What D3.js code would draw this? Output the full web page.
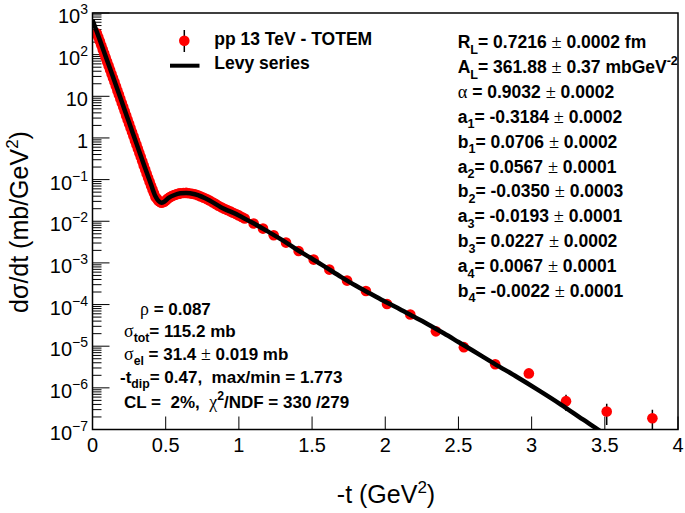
<!DOCTYPE html>
<html><head><meta charset="utf-8">
<script src="https://cdn.jsdelivr.net/npm/d3@7"></script>
<style>
body{margin:0;background:#fff}
svg{display:block}
text{font-family:"Liberation Sans",Arial,sans-serif;white-space:pre}
</style>
</head><body>
<svg id="c" width="685" height="513"></svg>
<script>
// ---------- data ----------
const xTicks = [0, 0.5, 1, 1.5, 2, 2.5, 3, 3.5, 4];
const xTickLabels = ["0", "0.5", "1", "1.5", "2", "2.5", "3", "3.5", "4"];
const yDecades = [-7, -6, -5, -4, -3, -2, -1, 0, 1, 2, 3];
const yTickBase = ["10", "10", "10", "10", "10", "10", "10", "1", "10", "10", "10"];
const yTickExp = ["\u22127", "\u22126", "\u22125", "\u22124", "\u22123", "\u22122", "\u22121", "", "", "2", "3"];

// TOTEM pp 13 TeV data (-t in GeV^2, dsigma/dt in mb/GeV^2)
const tData = [0.03,0.04,0.05,0.06,0.07,0.08,0.09,0.10,0.11,0.12,0.13,0.14,0.15,0.16,0.17,0.18,0.19,0.20,
  0.21,0.22,0.23,0.24,0.25,0.26,0.27,0.28,0.29,0.30,0.31,0.32,0.33,0.34,0.35,0.36,0.37,0.38,0.39,0.40,
  0.41,0.42,0.43,0.44,0.45,0.46,0.47,0.48,0.49,0.50,0.51,0.52,0.53,0.54,0.55,0.56,0.57,0.58,0.59,0.60,
  0.62,0.64,0.66,0.68,0.70,0.72,0.74,0.76,0.78,0.80,0.82,0.84,0.86,0.88,0.90,0.92,0.94,0.96,0.98,1.00,
  1.02,1.04,1.101,1.165,1.238,1.322,1.408,1.511,1.618,1.739,1.868,2.012,2.171,2.346,2.537,2.751,2.981,
  3.235,3.513,3.825];
const dsData = [324,261,209,167,133,106,84.7,67.6,54.0,43.1,34.4,27.4,21.9,17.4,13.8,11.0,8.71,6.92,
  5.50,4.37,3.47,2.75,2.19,1.74,1.38,1.10,0.871,0.692,0.550,0.437,0.347,0.275,0.219,0.175,0.139,0.111,0.0887,0.0708,
  0.0575,0.0468,0.0380,0.0351,0.0309,0.0293,0.0279,0.0286,0.0295,0.0316,0.0339,0.0363,0.0380,0.0398,0.0413,0.0427,0.0439,0.0450,0.0460,0.0468,
  0.0475,0.0479,0.0471,0.0459,0.0445,0.0422,0.0394,0.0366,0.0340,0.0316,0.0287,0.0261,0.0236,0.0216,0.0200,0.0186,0.0173,0.0160,0.0149,0.0138,
  0.0126,0.0116,8.8e-3,6.67e-3,4.6e-3,3.07e-3,1.93e-3,1.2e-3,6.9e-4,3.76e-4,2.11e-4,1.03e-4,5.75e-5,2.27e-5,9.5e-6,3.69e-6,2.22e-6,
  4.79e-7,2.71e-7,1.87e-7];
// visible error bars (last points only)
const errT = [3.235, 3.513, 3.825];
const errVal = [2.0e-7, 1.43e-7, 1.1e-7];

// Levy series fit curve
const lineT = [0,0.05,0.1,0.15,0.2,0.25,0.3,0.35,0.4,0.43,0.45,0.47,0.49,0.52,0.56,0.6,0.64,0.7,0.8,0.874,
  1.0,1.1,1.2,1.3,1.4,1.5,1.6,1.7,1.8,1.9,2.0,2.1,2.2,2.3,2.4,2.5,2.6,2.75,2.9,3.035,3.2,3.35,3.461,3.55];
const lineV = [676,224,72.4,23.4,7.41,2.34,0.741,0.234,0.0759,0.0398,0.0309,0.0279,0.0295,0.0363,0.0427,0.0468,0.0479,0.0445,0.0316,0.0221,
  0.0138,8.91e-3,5.62e-3,3.47e-3,2.04e-3,1.26e-3,7.59e-4,4.57e-4,2.82e-4,1.82e-4,1.17e-4,7.76e-5,5.01e-5,3.24e-5,2.04e-5,1.26e-5,7.76e-6,3.72e-6,1.82e-6,9.33e-7,3.98e-7,1.74e-7,9.55e-8,5.75e-8];

// fit parameters
const parName = ["R", "A", "\u03b1", "a", "b", "a", "b", "a", "b", "a", "b"];
const parSub = ["L", "L", "", "1", "1", "2", "2", "3", "3", "4", "4"];
const parVal = ["0.7216", "361.88", "0.9032", "-0.3184", "0.0706", "0.0567", "-0.0350", "-0.0193", "0.0227", "0.0067", "-0.0022"];
const parErr = ["0.0002", "0.37", "0.0002", "0.0002", "0.0002", "0.0001", "0.0003", "0.0001", "0.0002", "0.0001", "0.0001"];
const parUnit = [" fm", " mbGeV", "", "", "", "", "", "", "", "", ""];
const parUnitSup = ["", "-2", "", "", "", "", "", "", "", "", ""];

const legendLabels = ["pp 13 TeV - TOTEM", "Levy series"];

// ---------- drawing ----------
const svg = d3.select("#c");
const L = 92.5, R = 678, T = 13, B = 429.5;
const x = d3.scaleLinear().domain([0, 4]).range([L, R]);
const y = d3.scaleLog().domain([1e-7, 1e3]).range([B, T]);

svg.append("defs").append("clipPath").attr("id", "clip")
  .append("rect").attr("x", L).attr("y", T).attr("width", R - L).attr("height", B - T);

// y ticks
const yt = svg.append("g").attr("stroke", "#000").attr("stroke-width", 1);
yDecades.forEach(n => {
  const v = Math.pow(10, n);
  yt.append("line").attr("x1", L).attr("x2", L + 17).attr("y1", y(v)).attr("y2", y(v));
  if (n < 3) for (let k = 2; k <= 9; k++) {
    const vv = k * v;
    yt.append("line").attr("x1", L).attr("x2", L + 9).attr("y1", y(vv)).attr("y2", y(vv));
  }
});
// x ticks
xTicks.forEach(t => {
  yt.append("line").attr("x1", x(t)).attr("x2", x(t)).attr("y1", B).attr("y2", B - 13);
});

// y tick labels
yDecades.forEach((n, i) => {
  const tx = svg.append("text").attr("x", 88).attr("y", y(Math.pow(10, n)) + 10)
    .attr("text-anchor", "end").attr("font-size", 20);
  tx.append("tspan").text(yTickBase[i]);
  if (yTickExp[i]) tx.append("tspan").attr("dy", -9).attr("font-size", 14).text(yTickExp[i]);
});
// x tick labels
xTicks.forEach((t, i) => {
  svg.append("text").attr("x", x(t)).attr("y", 452).attr("text-anchor", "middle")
    .attr("font-size", 20).text(xTickLabels[i]);
});

// axis titles
const yTitle = svg.append("text").attr("transform", "translate(28,222) rotate(-90)")
  .attr("text-anchor", "middle").attr("font-size", 25);
yTitle.append("tspan").text("d\u03c3/dt (mb/GeV");
yTitle.append("tspan").attr("dy", -10).attr("font-size", 17).text("2");
yTitle.append("tspan").attr("dy", 10).text(")");
const xTitle = svg.append("text").attr("x", 386).attr("y", 503)
  .attr("text-anchor", "middle").attr("font-size", 25);
xTitle.append("tspan").text("-t (GeV");
xTitle.append("tspan").attr("dy", -10).attr("font-size", 17).text("2");
xTitle.append("tspan").attr("dy", 10).text(")");

// data
const plot = svg.append("g").attr("clip-path", "url(#clip)");
const eb = plot.append("g").attr("stroke", "#000").attr("stroke-width", 1.5);
errT.forEach((t, i) => {
  const j = tData.indexOf(t);
  const v = dsData[j];
  eb.append("line").attr("x1", x(t)).attr("x2", x(t))
    .attr("y1", y(v + errVal[i])).attr("y2", y(Math.max(v - errVal[i], 1e-9)));
});
plot.append("g").selectAll("circle").data(tData.map((t, i) => [t, dsData[i]])).join("circle")
  .attr("cx", d => x(d[0])).attr("cy", d => y(d[1])).attr("r", 5.3).attr("fill", "#ff0000");

const line = d3.line().x(d => x(d[0])).y(d => y(d[1])).curve(d3.curveMonotoneX);
plot.append("path").datum(lineT.map((t, i) => [t, lineV[i]])).attr("d", line)
  .attr("fill", "none").attr("stroke", "#000").attr("stroke-width", 4.5).attr("stroke-linejoin", "round");

// frame
svg.append("rect").attr("x", L).attr("y", T).attr("width", R - L).attr("height", B - T)
  .attr("fill", "none").attr("stroke", "#000").attr("stroke-width", 1.5);

// legend
svg.append("line").attr("x1", 184.3).attr("x2", 184.3).attr("y1", 30).attr("y2", 52)
  .attr("stroke", "#000").attr("stroke-width", 1.5);
svg.append("circle").attr("cx", 184.3).attr("cy", 40.7).attr("r", 5.3).attr("fill", "#ff0000");
svg.append("line").attr("x1", 170).attr("x2", 199.5).attr("y1", 65.7).attr("y2", 65.7)
  .attr("stroke", "#000").attr("stroke-width", 4);
legendLabels.forEach((s, i) => {
  svg.append("text").attr("x", 214.3).attr("y", 45 + i * 24).attr("font-size", 17.5)
    .attr("font-weight", "bold").text(s);
});

// rich text helper
function rich(px, py, parts, size) {
  const tx = svg.append("text").attr("x", px).attr("y", py).attr("font-size", size).attr("font-weight", "bold");
  let off = 0;
  parts.forEach(p => {
    const [s, kind] = p;
    let target = 0, fs = size, fam = null, fw = "bold";
    if (kind === "sub") { target = size * 0.32; fs = size * 0.72; }
    if (kind === "sup") { target = -size * 0.45; fs = size * 0.72; }
    if (kind === "g") { fam = "Liberation Serif"; fw = "normal"; fs = size * 1.05; }
    const ts = tx.append("tspan").attr("dy", target - off).attr("font-size", fs).attr("font-weight", fw).text(s);
    if (fam) ts.attr("font-family", fam);
    off = target;
  });
  return tx;
}

// parameters block
parName.forEach((nm, i) => {
  const parts = [];
  parts.push([nm, nm === "\u03b1" ? "g" : ""]);
  if (parSub[i]) parts.push([parSub[i], "sub"]);
  parts.push([(nm === "\u03b1" ? " " : "") + "= " + parVal[i] + " ", ""]);
  parts.push(["\u00b1", "g"]);
  parts.push([" " + parErr[i] + parUnit[i], ""]);
  if (parUnitSup[i]) parts.push([parUnitSup[i], "sup"]);
  rich(457.7, 48.3 + i * 24.85, parts, 17.5);
});

// lower-left summary block
rich(140, 315, [["\u03c1", "g"], [" = 0.087", ""]], 17);
rich(124, 336.7, [["\u03c3", "g"], ["tot", "sub"], ["= 115.2 mb", ""]], 17);
rich(124, 360, [["\u03c3", "g"], ["el", "sub"], [" = 31.4 ", ""], ["\u00b1", "g"], [" 0.019 mb", ""]], 17);
rich(120, 383, [["-t", ""], ["dip", "sub"], ["= 0.47,  max/min = 1.773", ""]], 17);
rich(124, 408, [["CL =  2%,  ", ""], ["\u03c7", "g"], ["2", "sup"], ["/NDF = 330 /279", ""]], 17);
</script>
</body></html>
